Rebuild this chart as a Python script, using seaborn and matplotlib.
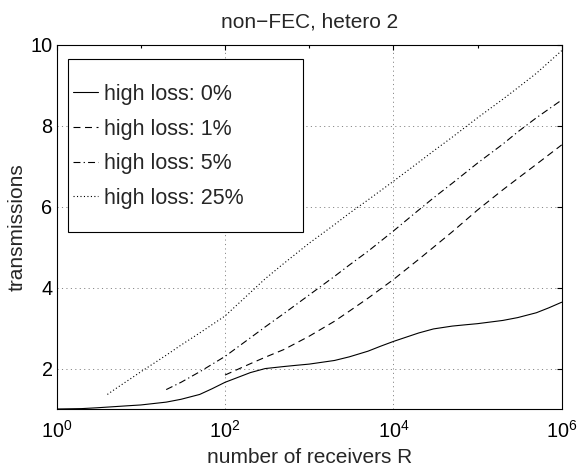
import numpy as np
import pandas as pd
import matplotlib
matplotlib.use("Agg")
import matplotlib.pyplot as plt
from matplotlib.patches import Rectangle
from matplotlib.ticker import FixedLocator, FixedFormatter, NullFormatter
import seaborn as sns

# ---- data ----
labels = ["high loss: 0%", "high loss: 1%", "high loss: 5%", "high loss: 25%"]

r_0 = [1, 2, 3, 5, 7, 10, 20, 30, 50, 70, 100, 200, 300, 500, 700, 1e3, 2e3, 3e3, 5e3, 7e3,
       1e4, 2e4, 3e4, 5e4, 7e4, 1e5, 2e5, 3e5, 5e5, 7e5, 1e6]
t_0 = [1.00, 1.01, 1.03, 1.06, 1.08, 1.10, 1.17, 1.24, 1.36, 1.50, 1.66, 1.90, 2.00, 2.05, 2.08,
       2.11, 2.20, 2.29, 2.43, 2.55, 2.67, 2.88, 2.98, 3.05, 3.08, 3.11, 3.19, 3.26, 3.38, 3.50, 3.64]

r_1 = [100, 200, 300, 500, 1e3, 2e3, 3e3, 5e3, 1e4, 2e4, 3e4, 5e4, 1e5, 2e5, 3e5, 5e5, 1e6]
t_1 = [1.84, 2.12, 2.28, 2.47, 2.80, 3.17, 3.42, 3.74, 4.20, 4.70, 5.00, 5.38, 5.92, 6.42,
       6.70, 7.05, 7.53]

r_5 = [20, 30, 50, 100, 200, 300, 500, 1e3, 2e3, 3e3, 5e3, 1e4, 2e4, 3e4, 5e4, 1e5, 2e5,
       3e5, 5e5, 1e6]
t_5 = [1.48, 1.66, 1.92, 2.30, 2.76, 3.03, 3.36, 3.82, 4.28, 4.56, 4.90, 5.40, 5.92, 6.22,
       6.58, 7.08, 7.55, 7.85, 8.20, 8.64]

r_25 = [4, 5, 10, 20, 30, 50, 100, 200, 300, 500, 1e3, 2e3, 3e3, 5e3, 1e4, 2e4, 3e4, 5e4,
        1e5, 2e5, 3e5, 5e5, 1e6]
t_25 = [1.36, 1.50, 1.92, 2.33, 2.58, 2.88, 3.30, 3.88, 4.22, 4.60, 5.10, 5.56, 5.84, 6.17,
        6.63, 7.10, 7.38, 7.72, 8.20, 8.66, 8.94, 9.30, 9.86]

x_major = [1, 1e2, 1e4, 1e6]
x_major_labels = [r"$\mathregular{10^{0}}$", r"$\mathregular{10^{2}}$",
                  r"$\mathregular{10^{4}}$", r"$\mathregular{10^{6}}$"]
x_minor = [1e1, 1e3, 1e5]
y_ticks = [2, 4, 6, 8, 10]

df = pd.concat([
    pd.DataFrame({"R": r, "transmissions": t, "series": lab})
    for r, t, lab in zip([r_0, r_1, r_5, r_25], [t_0, t_1, t_5, t_25], labels)
], ignore_index=True)

# ---- style ----
sns.set_theme(style="white")
plt.rcParams["font.family"] = ["Liberation Sans", "DejaVu Sans"]
plt.rcParams["mathtext.fontset"] = "custom"
plt.rcParams["mathtext.rm"] = "Liberation Sans"
plt.rcParams["lines.scale_dashes"] = False

W, H = 579, 470
fig = plt.figure(figsize=(W / 100, H / 100), dpi=100)
fig.patch.set_facecolor("white")
ax = fig.add_axes([56.7 / W, 1 - 409 / H, (561.7 - 56.7) / W, (409 - 45) / H])
ax.set_facecolor("white")

dash_map = {
    labels[0]: "",
    labels[1]: (5, 3.3),
    labels[2]: (5, 2.3, 0.9, 2.3),
    labels[3]: (0.8, 1.7),
}
sns.lineplot(data=df, x="R", y="transmissions", style="series", dashes=dash_map,
             style_order=labels, color="black", linewidth=0.8, estimator=None,
             sort=False, ax=ax, legend=True)

ax.set_xscale("log")
ax.set_xlim(1, 1e6)
ax.set_ylim(1, 10)

ax.xaxis.set_major_locator(FixedLocator(x_major))
ax.xaxis.set_major_formatter(FixedFormatter(x_major_labels))
ax.xaxis.set_minor_locator(FixedLocator(x_minor))
ax.xaxis.set_minor_formatter(NullFormatter())
ax.yaxis.set_major_locator(FixedLocator(y_ticks))
ax.set_yticklabels([str(v) for v in y_ticks])

ax.tick_params(which="both", direction="in", top=True, right=True, colors="black",
               labelsize=14.3, width=0.8)
ax.tick_params(axis="x", which="major", length=3.8, pad=8)
ax.tick_params(axis="x", which="minor", length=2.2)
ax.tick_params(axis="y", which="major", length=3.8, pad=3)

ax.grid(True, which="major", linestyle=(0, (0.8, 2.4)), color="0.45", linewidth=0.6)
for s in ax.spines.values():
    s.set_color("black")
    s.set_linewidth(0.8)

ax.set_xlabel("number of receivers R", fontsize=15, labelpad=4)
ax.set_ylabel("transmissions", fontsize=15, labelpad=3)
ax.set_title("non\u2212FEC, hetero 2", fontsize=15, pad=12.5)

# legend frame (MATLAB style box) and entries
rect = Rectangle((68.3 / W, 1 - 231.7 / H), (302.7 - 68.3) / W, (231.7 - 59.3) / H,
                 transform=fig.transFigure, facecolor="white", edgecolor="black",
                 linewidth=0.8, zorder=4, clip_on=False)
ax.add_patch(rect)
handles, labs = ax.get_legend_handles_labels()
leg = ax.legend(handles, labs, loc="upper left", bbox_to_anchor=(73 / W, 1 - 84 / H),
                bbox_transform=fig.transFigure, frameon=False, borderpad=0,
                borderaxespad=0, fontsize=15.5, handlelength=1.16, handletextpad=0.29,
                labelspacing=0.63)
leg.set_zorder(5)

fig.savefig("out.png", dpi=100, facecolor="white")
